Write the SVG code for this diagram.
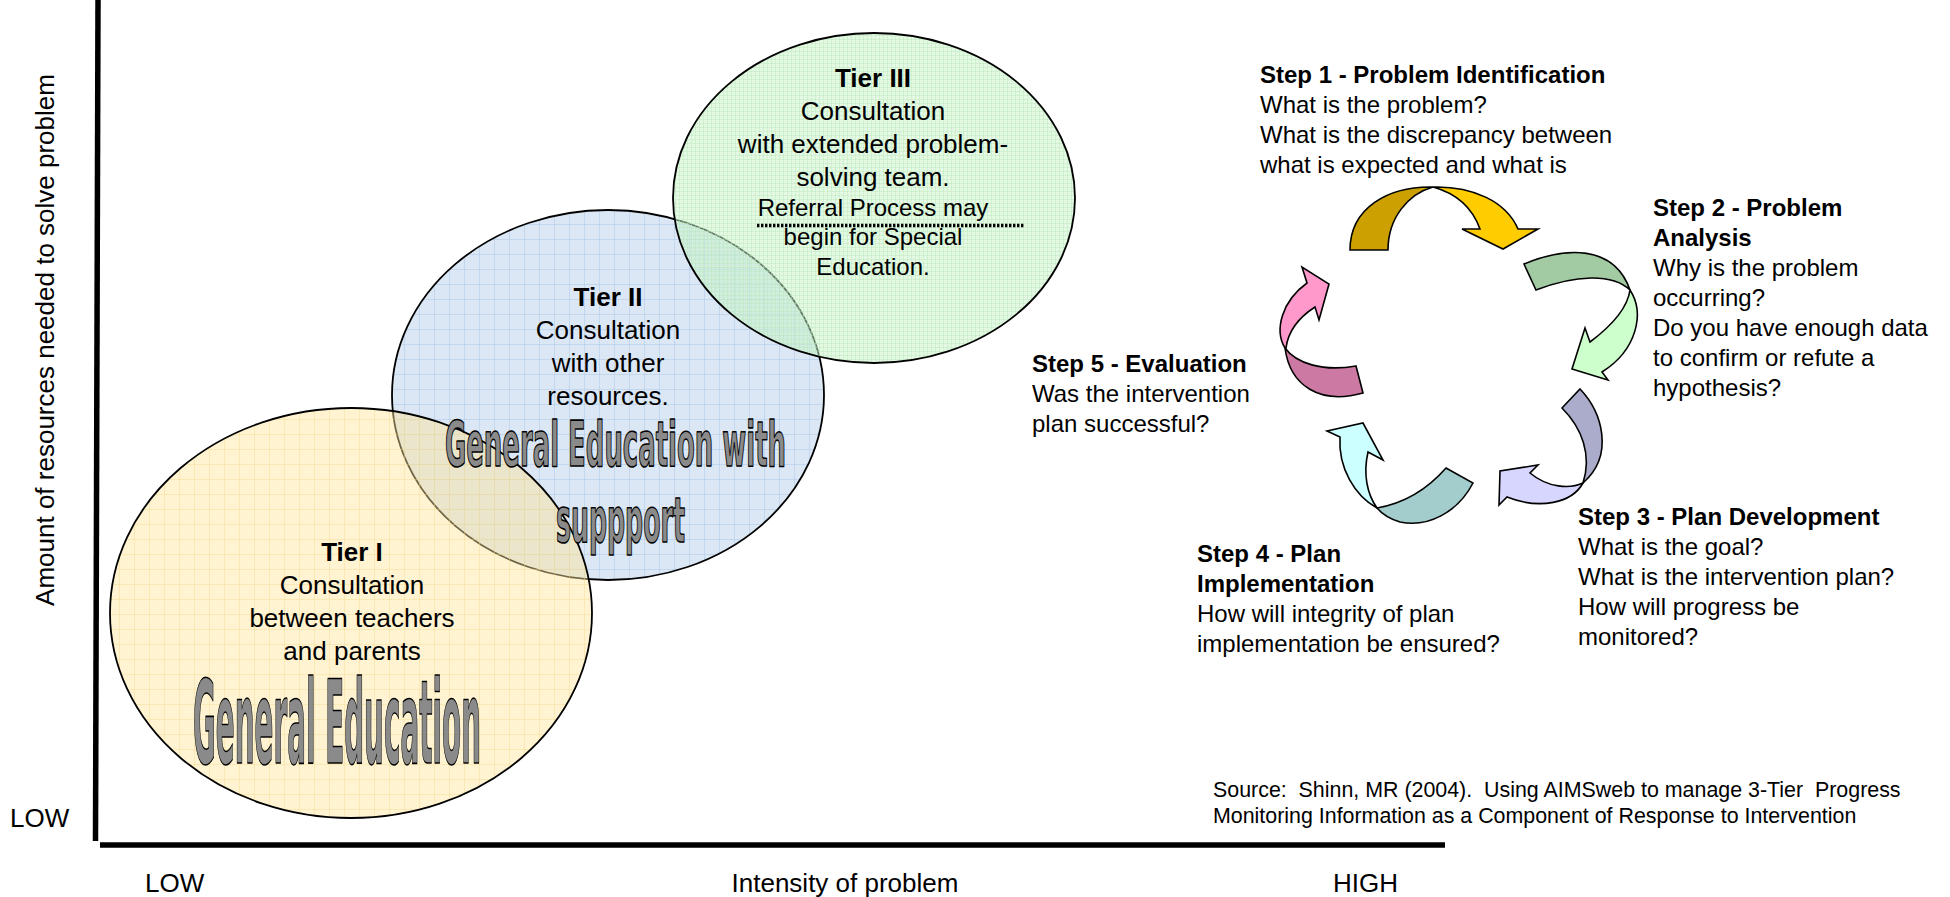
<svg xmlns="http://www.w3.org/2000/svg" width="1950" height="897" viewBox="0 0 1950 897">
<style>
text{font-family:"Liberation Sans",Arial,sans-serif;fill:#000}
.t26{font-size:26px}
.t24{font-size:24px}
.b{font-weight:bold}
.mid{text-anchor:middle}
.deco{font-family:"Liberation Sans Narrow","DejaVu Sans Condensed","Liberation Sans",sans-serif;font-weight:bold;fill:#8a8a8a;stroke:#000;stroke-width:1.6;stroke-linejoin:round}
.ell{stroke:#000;stroke-width:1.8}
.arr{stroke:#000;stroke-width:1.6;stroke-linejoin:miter}
</style>
<defs>
<pattern id="gY" width="15" height="15" patternUnits="userSpaceOnUse"><path d="M14.5 0V15M0 14.5H15" stroke="#f3d98a" stroke-width="0.8" fill="none" opacity="0.5"/></pattern>
<pattern id="gB" width="15" height="15" patternUnits="userSpaceOnUse"><path d="M14.5 0V15M0 14.5H15" stroke="#a9c9ea" stroke-width="0.8" fill="none" opacity="0.6"/></pattern>
<pattern id="gG" width="4" height="4" patternUnits="userSpaceOnUse"><path d="M3.5 0V4M0 3.5H4" stroke="#b8e6b8" stroke-width="0.6" fill="none" opacity="0.7"/></pattern>
</defs>
<rect width="1950" height="897" fill="#fff"/>

<g id="axes">
<line x1="98" y1="0" x2="95.5" y2="841" stroke="#000" stroke-width="5.5"/>
<line x1="100" y1="845" x2="1445" y2="845" stroke="#000" stroke-width="5.5"/>
<text class="t26 mid" transform="translate(54,340) rotate(-90)">Amount of resources needed to solve problem</text>
<text class="t26" x="10" y="827">LOW</text>
<text class="t26" x="145" y="892">LOW</text>
<text class="t26 mid" x="845" y="892">Intensity of problem</text>
<text class="t26" x="1333" y="892">HIGH</text>
</g>

<g id="tier2">
<ellipse cx="608" cy="395" rx="216" ry="185" fill="#dbe7f4"/>
<ellipse cx="608" cy="395" rx="216" ry="185" fill="url(#gB)" class="ell"/>
<text class="t26 b mid" x="608" y="306">Tier II</text>
<text class="t26 mid" x="608" y="339">Consultation</text>
<text class="t26 mid" x="608" y="372">with other</text>
<text class="t26 mid" x="608" y="405">resources.</text>
</g>

<g id="tier1">
<ellipse cx="351" cy="613" rx="241" ry="205" fill="#ffe599" fill-opacity="0.45"/>
<ellipse cx="351" cy="613" rx="241" ry="205" fill="url(#gY)" class="ell"/>
<text class="t26 b mid" x="352" y="561">Tier I</text>
<text class="t26 mid" x="352" y="594">Consultation</text>
<text class="t26 mid" x="352" y="627">between teachers</text>
<text class="t26 mid" x="352" y="660">and parents</text>
<text class="deco" x="193" y="763" font-size="116" textLength="288" lengthAdjust="spacingAndGlyphs">General Education</text>
</g>

<g id="tier3">
<ellipse cx="874" cy="198" rx="201" ry="165" fill="#c7f3c7" fill-opacity="0.5"/>
<ellipse cx="874" cy="198" rx="201" ry="165" fill="url(#gG)" class="ell"/>
<text class="t26 b mid" x="873" y="87">Tier III</text>
<text class="t26 mid" x="873" y="120">Consultation</text>
<text class="t26 mid" x="873" y="153">with extended problem-</text>
<text class="t26 mid" x="873" y="186">solving team.</text>
<text class="t24 mid" x="873" y="216">Referral Process may</text>
<line x1="757" y1="225.5" x2="1025" y2="225.5" stroke="#000" stroke-width="3.5" stroke-dasharray="2.4 1.6"/>
<text class="t24 mid" x="873" y="245">begin for Special</text>
<text class="t24 mid" x="873" y="275">Education.</text>
</g>

<g id="tier2-label">
<text class="deco" x="445" y="466" font-size="62" textLength="341" lengthAdjust="spacingAndGlyphs">General Education with</text>
<text class="deco" x="556" y="542" font-size="62" textLength="129" lengthAdjust="spacingAndGlyphs">suppport</text>
</g>

<g id="connectors">
<path class="arr" fill="#cca000" d="M1350,250 C1350,208 1388,186 1433,187 C1408,194 1388,218 1388,250 Z"/>
<path class="arr" fill="#ffcc00" d="M1433,187 C1472,186 1506,201 1518,229 L1538,229 L1503,249 L1462,229 L1480,229 C1472,207 1455,193 1433,187 Z"/>
<path class="arr" fill="#a3cba3" d="M1524,264 C1565,247 1614,244 1630,290 C1612,273 1575,275 1536,290 Z"/>
<path class="arr" fill="#ccffcc" d="M1630,290 C1645,313 1637,350 1602,372 L1608,380 L1572,369 L1585,328 L1590,342 C1606,330 1627,312 1630,290 Z"/>
<path class="arr" fill="#ababcb" d="M1562,408 L1580,389 C1602,412 1615,455 1583,483 C1592,455 1582,428 1562,408 Z"/>
<path class="arr" fill="#d6d6ff" d="M1583,483 C1572,503 1540,510 1507,497 L1499,505 L1500,471 L1538,465 L1530,473 C1548,488 1570,489 1583,483 Z"/>
<path class="arr" fill="#a3cccc" d="M1446,468 L1473,483 C1458,512 1428,528 1400,522 C1390,519 1382,514 1377,508 C1400,504 1425,492 1446,468 Z"/>
<path class="arr" fill="#ccffff" d="M1377,508 C1355,496 1338,468 1340,437 L1327,431 L1363,423 L1383,460 L1368,452 C1363,474 1367,494 1377,508 Z"/>
<path class="arr" fill="#ff99cc" d="M1285,348 C1274,330 1282,301 1307,283 L1302,267 L1329,284 L1319,320 L1315,307 C1298,318 1288,332 1286,348 Z"/>
<path class="arr" fill="#cc7aa3" d="M1285,348 C1296,363 1322,372 1356,366 L1363,393 C1320,405 1290,386 1285,348 Z"/>
</g>

<g id="step1">
<text class="t24 b" x="1260" y="83">Step 1 - Problem Identification</text>
<text class="t24" x="1260" y="113">What is the problem?</text>
<text class="t24" x="1260" y="143">What is the discrepancy between</text>
<text class="t24" x="1260" y="173">what is expected and what is</text>
</g>
<g id="step2">
<text class="t24 b" x="1653" y="216">Step 2 - Problem</text>
<text class="t24 b" x="1653" y="246">Analysis</text>
<text class="t24" x="1653" y="276">Why is the problem</text>
<text class="t24" x="1653" y="306">occurring?</text>
<text class="t24" x="1653" y="336">Do you have enough data</text>
<text class="t24" x="1653" y="366">to confirm or refute a</text>
<text class="t24" x="1653" y="396">hypothesis?</text>
</g>
<g id="step3">
<text class="t24 b" x="1578" y="525">Step 3 - Plan Development</text>
<text class="t24" x="1578" y="555">What is the goal?</text>
<text class="t24" x="1578" y="585">What is the intervention plan?</text>
<text class="t24" x="1578" y="615">How will progress be</text>
<text class="t24" x="1578" y="645">monitored?</text>
</g>
<g id="step4">
<text class="t24 b" x="1197" y="562">Step 4 - Plan</text>
<text class="t24 b" x="1197" y="592">Implementation</text>
<text class="t24" x="1197" y="622">How will integrity of plan</text>
<text class="t24" x="1197" y="652">implementation be ensured?</text>
</g>
<g id="step5">
<text class="t24 b" x="1032" y="372">Step 5 - Evaluation</text>
<text class="t24" x="1032" y="402">Was the intervention</text>
<text class="t24" x="1032" y="432">plan successful?</text>
</g>
<g id="source">
<text x="1213" y="797" font-size="21.4" xml:space="preserve" style="white-space:pre">Source:  Shinn, MR (2004).  Using AIMSweb to manage 3-Tier  Progress</text>
<text x="1213" y="823" font-size="21.4">Monitoring Information as a Component of Response to Intervention</text>
</g>
</svg>
